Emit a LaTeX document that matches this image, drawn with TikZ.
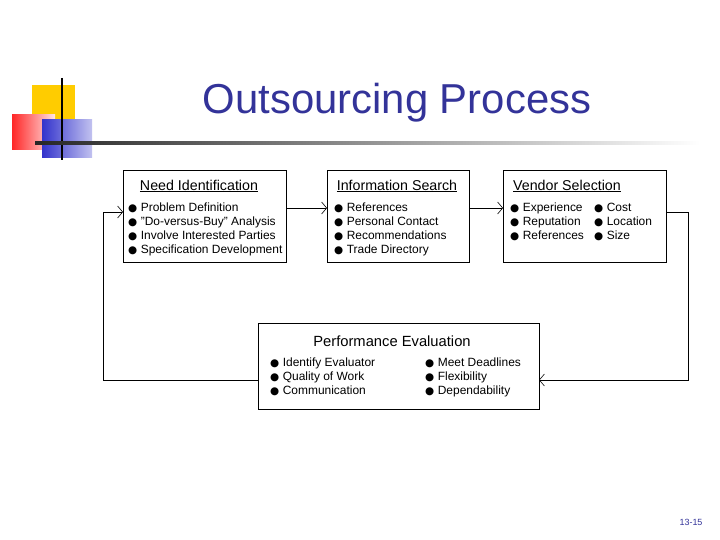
\documentclass[tikz,border=0pt]{standalone}
\usepackage{fontspec}
\setmainfont{Liberation Sans}
\newfontfamily\dvs{DejaVu Sans}
\usetikzlibrary{arrows.meta}
\definecolor{ttl}{RGB}{51,51,153}
\definecolor{ylw}{RGB}{255,204,0}
\definecolor{bl}{RGB}{51,51,204}
\newcommand{\bul}{{\dvs\fontsize{10.5}{12}\selectfont ●}\hspace{3.5bp}}
\begin{document}
\begin{tikzpicture}[x=1bp,y=-1bp,
  box/.style={draw,line width=0.8bp},
  item/.style={anchor=base west,inner sep=0,font=\fontsize{12}{13}\selectfont},
  head/.style={inner sep=0,font=\fontsize{14.3}{16}\selectfont},
  conn/.style={line width=0.6bp,-{Straight Barb[length=5bp,width=12bp,line width=0.6bp]}}]
\useasboundingbox (0,0) rectangle (720,540);
% logo
\fill[ylw] (32,85) rectangle (75,128);
\shade[left color=red!85,right color=red!10] (12,115) rectangle (55,150);
\shade[left color=bl,right color=bl!30] (42,120) rectangle (92,158);
\draw[line width=1.5bp] (62,78) -- (62,160);
\shade[left color=black!85,right color=white] (35,142) rectangle (700,144.5);
\node[text=ttl,font=\fontsize{42}{46}\selectfont] (title) at (397,103) {Outsourcing Process};
% boxes
\draw[box] (123,170) rectangle (286,262);
\draw[box] (327,170) rectangle (469,262);
\draw[box] (503,170) rectangle (666,262);
\draw[box] (258,323) rectangle (539,409);
\coordinate (n1) at (286,208); \coordinate (i0) at (327,208);
\coordinate (i1) at (469,208); \coordinate (v0) at (503,208);
\coordinate (v1) at (666,212); \coordinate (vr) at (688,212); \coordinate (vrd) at (688,380);
\coordinate (p1) at (539,380); \coordinate (p0) at (258,380);
\coordinate (pl) at (103,380); \coordinate (plu) at (103,212); \coordinate (n0) at (123,212);
\draw[conn] (n1) -- (i0);
\draw[conn] (i1) -- (v0);
\draw[conn] (v1) -- (vr) -- (vrd) -- (p1);
\draw[conn] (p0) -- (pl) -- (plu) -- (n0);
% heads
\node[head] (h1) at (199,186) {\underline{Need Identification}};
\node[head] (h2) at (397,186) {\underline{Information Search}};
\node[head] (h3) at (567,186) {\underline{Vendor Selection}};
\node[head,font=\fontsize{14.8}{16}\selectfont] (h4) at (392,341) {Performance Evaluation};
% items
\node[item] (a1) at (128,212) {\bul Problem Definition};
\node[item] (a2) at (128,226) {\bul "Do-versus-Buy" Analysis};
\node[item] (a3) at (128,240) {\bul Involve Interested Parties};
\node[item] (a4) at (128,254) {\bul Specification Development};
\node[item] (b1) at (334,212) {\bul References};
\node[item] (b2) at (334,226) {\bul Personal Contact};
\node[item] (b3) at (334,240) {\bul Recommendations};
\node[item] (b4) at (334,254) {\bul Trade Directory};
\node[item] (c1) at (510,212) {\bul Experience};
\node[item] (c2) at (510,226) {\bul Reputation};
\node[item] (c3) at (510,240) {\bul References};
\node[item] (c4) at (594,212) {\bul Cost};
\node[item] (c5) at (594,226) {\bul Location};
\node[item] (c6) at (594,240) {\bul Size};
\node[item] (d1) at (270,366) {\bul Identify Evaluator};
\node[item] (d2) at (270,380) {\bul Quality of Work};
\node[item] (d3) at (270,394) {\bul Communication};
\node[item] (d4) at (425,366) {\bul Meet Deadlines};
\node[item] (d5) at (425,380) {\bul Flexibility};
\node[item] (d6) at (425,394) {\bul Dependability};
\node[inner sep=0,text=ttl,font=\fontsize{9}{10}\selectfont] (pg) at (691,522) {13-15};
\end{tikzpicture}
\end{document}
